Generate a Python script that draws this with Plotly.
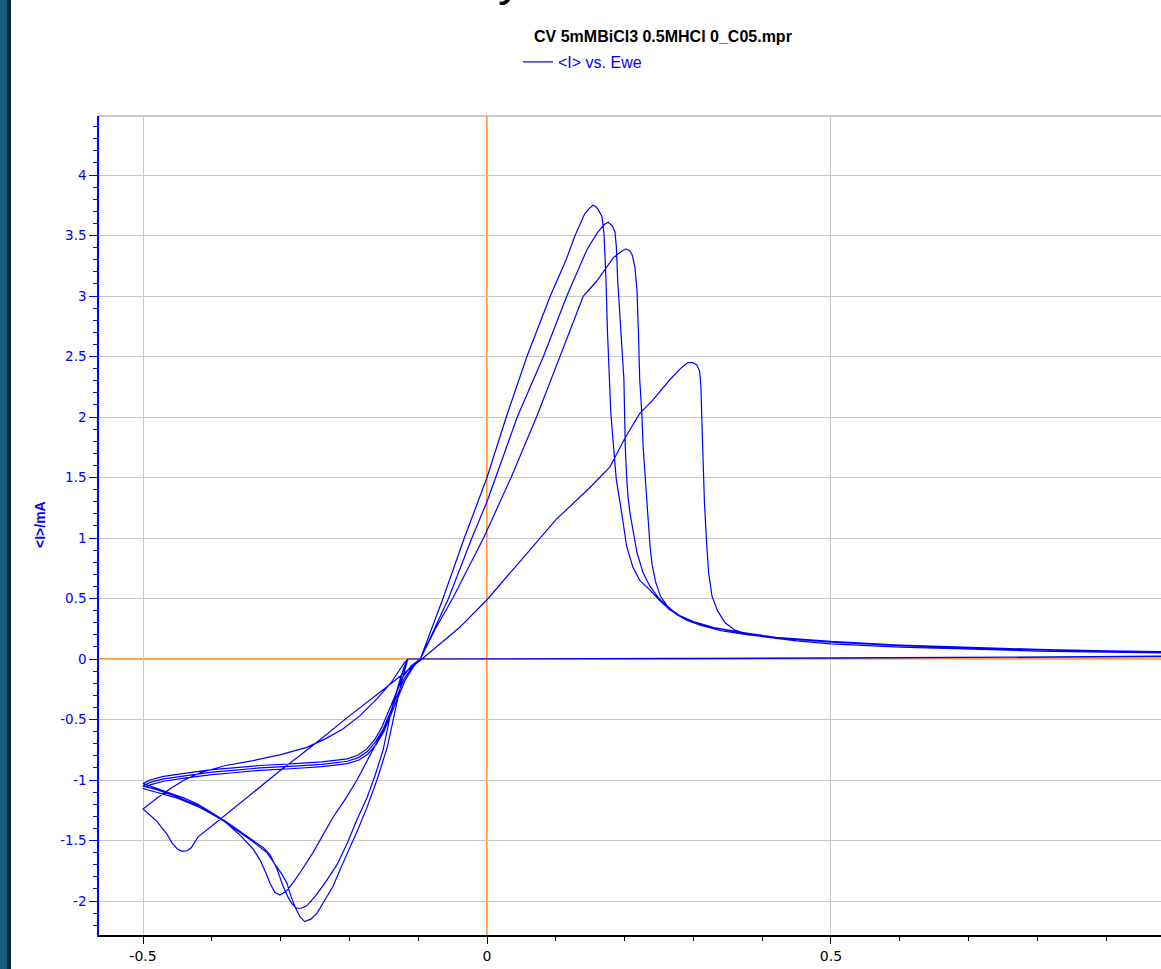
import plotly.graph_objects as go

# ---------------- data ----------------
# Cycle 1: start at rest, cathodic sweep, nucleation loop, anodic sweep, stripping peak, tail
c1_E = [0.25, 0.10, -0.05, -0.115, -0.12, -0.126, -0.14, -0.16, -0.185, -0.21, -0.235, -0.262, -0.30, -0.34, -0.38,
        -0.417, -0.44, -0.46, -0.48, -0.50,
        -0.49, -0.48, -0.472, -0.465, -0.458, -0.45, -0.443, -0.436, -0.43, -0.426, -0.42,
        -0.40, -0.37, -0.34, -0.30, -0.25, -0.20, -0.15, -0.0945,
        -0.04, 0.0, 0.05, 0.10, 0.15, 0.179, 0.20, 0.222, 0.241, 0.266, 0.283, 0.292, 0.299, 0.305, 0.309, 0.311,
        0.312, 0.314, 0.316, 0.319, 0.322, 0.327, 0.335, 0.346, 0.36, 0.38, 0.40, 0.45, 0.50, 0.60, 0.70, 0.80,
        0.90, 1.05]
c1_I = [0.0, 0.0, 0.0, 0.0, -0.03, -0.08, -0.2, -0.33, -0.47, -0.58, -0.66, -0.73, -0.79, -0.84, -0.88,
        -0.94, -1.0, -1.07, -1.15, -1.24,
        -1.29, -1.34, -1.40, -1.45, -1.52, -1.57, -1.59, -1.585, -1.56, -1.52, -1.47,
        -1.38, -1.24, -1.10, -0.92, -0.70, -0.47, -0.25, 0.0,
        0.26, 0.49, 0.82, 1.15, 1.42, 1.59, 1.82, 2.03, 2.14, 2.31, 2.41, 2.45, 2.45, 2.43, 2.38, 2.25,
        2.03, 1.67, 1.30, 0.98, 0.72, 0.52, 0.40, 0.30, 0.24, 0.205, 0.185, 0.15, 0.125, 0.098, 0.08, 0.066,
        0.056, 0.045]

# return sweeps from the upper vertex (current close to zero)
ret_E = [1.05, 0.90, 0.70, 0.50, 0.30, 0.10, -0.115]
ret1_I = [0.022, 0.017, 0.012, 0.007, 0.003, 0.0, 0.0]
ret2_I = [0.025, 0.019, 0.013, 0.008, 0.003, 0.001, 0.0]
ret3_I = [0.027, 0.020, 0.014, 0.008, 0.004, 0.001, 0.0]

# Cycle 2
c2_cath_E = [-0.12, -0.127, -0.134, -0.141, -0.15, -0.16, -0.175, -0.189, -0.205, -0.224, -0.24, -0.253, -0.27,
             -0.282, -0.292, -0.301, -0.308, -0.315, -0.322, -0.33, -0.34, -0.35, -0.36, -0.38, -0.40, -0.42,
             -0.44, -0.46, -0.48, -0.50]
c2_cath_I = [-0.06, -0.18, -0.32, -0.46, -0.58, -0.69, -0.85, -1.0, -1.15, -1.31, -1.47, -1.60, -1.75,
             -1.85, -1.92, -1.95, -1.93, -1.86, -1.76, -1.66, -1.57, -1.51, -1.45, -1.35, -1.27, -1.20,
             -1.15, -1.11, -1.07, -1.03]
c2_anod_E = [-0.49, -0.47, -0.44, -0.40, -0.369, -0.33, -0.28, -0.24, -0.203, -0.188, -0.175, -0.163, -0.153,
             -0.143, -0.133, -0.122, -0.11, -0.097, -0.075, -0.05, -0.005, 0.035, 0.072, 0.106, 0.14, 0.159,
             0.184, 0.196, 0.202, 0.208, 0.211, 0.215, 0.218, 0.22, 0.222, 0.225, 0.227, 0.23, 0.232, 0.235,
             0.237, 0.24, 0.245, 0.252, 0.262, 0.275, 0.29, 0.31, 0.34, 0.38, 0.42, 0.50, 0.60, 0.70, 0.80,
             0.90, 1.05]
c2_anod_I = [-1.0, -0.97, -0.945, -0.915, -0.90, -0.88, -0.865, -0.85, -0.825, -0.795, -0.745, -0.665, -0.565,
             -0.43, -0.285, -0.145, -0.055, 0.0, 0.25, 0.5, 1.0, 1.5, 2.0, 2.5, 3.0, 3.12,
             3.32, 3.37, 3.39, 3.37, 3.34, 3.24, 3.05, 2.72, 2.31, 2.03, 1.75, 1.5, 1.34, 1.1,
             0.93, 0.78, 0.64, 0.52, 0.44, 0.37, 0.32, 0.28, 0.235, 0.20, 0.175, 0.14, 0.11, 0.09, 0.075,
             0.063, 0.05]

# Cycle 3
c3_cath_E = [-0.122, -0.13, -0.14, -0.151, -0.162, -0.174, -0.19, -0.203, -0.218, -0.233, -0.248, -0.262, -0.27,
             -0.277, -0.284, -0.29, -0.297, -0.305, -0.315, -0.325, -0.34, -0.36, -0.38, -0.40, -0.42, -0.45,
             -0.48, -0.50]
c3_cath_I = [-0.1, -0.25, -0.45, -0.75, -0.95, -1.14, -1.34, -1.52, -1.70, -1.83, -1.95, -2.04, -2.06,
             -2.06, -2.02, -1.96, -1.87, -1.74, -1.62, -1.56, -1.50, -1.42, -1.34, -1.27, -1.21, -1.14,
             -1.08, -1.05]
c3_anod_E = [-0.49, -0.47, -0.44, -0.40, -0.369, -0.33, -0.28, -0.24, -0.203, -0.187, -0.174, -0.162, -0.151,
             -0.141, -0.131, -0.12, -0.108, -0.097, -0.078, -0.056, -0.022, 0.0, 0.044, 0.082, 0.116, 0.145,
             0.160, 0.170, 0.176, 0.182, 0.186, 0.188, 0.19, 0.193, 0.196, 0.199, 0.20, 0.201, 0.203, 0.205,
             0.208, 0.212, 0.218, 0.227, 0.237, 0.25, 0.265, 0.28, 0.30, 0.33, 0.37, 0.42, 0.50, 0.60, 0.70,
             0.80, 0.90, 1.05]
c3_anod_I = [-1.02, -0.99, -0.965, -0.935, -0.92, -0.90, -0.885, -0.87, -0.845, -0.815, -0.765, -0.685, -0.58,
             -0.445, -0.30, -0.16, -0.06, 0.0, 0.23, 0.5, 1.0, 1.3, 2.0, 2.5, 3.0, 3.38,
             3.52, 3.59, 3.61, 3.58, 3.53, 3.41, 3.13, 2.86, 2.6, 2.31, 2.03, 1.75, 1.5, 1.34,
             1.2, 1.07, 0.88, 0.71, 0.60, 0.50, 0.42, 0.36, 0.31, 0.26, 0.22, 0.18, 0.145, 0.115, 0.095,
             0.08, 0.068, 0.055]

# Cycle 4
c4_cath_E = [-0.12, -0.128, -0.137, -0.145, -0.16, -0.174, -0.187, -0.199, -0.212, -0.224, -0.236, -0.247,
             -0.256, -0.265, -0.272, -0.279, -0.285, -0.291, -0.298, -0.305, -0.32, -0.34, -0.36, -0.38, -0.40,
             -0.42, -0.45, -0.48, -0.50]
c4_cath_I = [-0.1, -0.28, -0.52, -0.73, -1.0, -1.22, -1.40, -1.55, -1.72, -1.88, -2.0, -2.10,
             -2.15, -2.17, -2.13, -2.05, -1.96, -1.85, -1.78, -1.72, -1.60, -1.51, -1.43, -1.35, -1.28,
             -1.22, -1.15, -1.10, -1.07]
c4_anod_E = [-0.49, -0.47, -0.44, -0.40, -0.369, -0.33, -0.28, -0.24, -0.203, -0.186, -0.173, -0.161, -0.15,
             -0.14, -0.13, -0.119, -0.107, -0.097, -0.064, -0.033, 0.0, 0.028, 0.058, 0.092, 0.115, 0.128,
             0.142, 0.148, 0.154, 0.158, 0.161, 0.167, 0.170, 0.173, 0.175, 0.178, 0.180, 0.184, 0.188, 0.196,
             0.203, 0.212, 0.222, 0.237, 0.25, 0.265, 0.28, 0.30, 0.33, 0.37, 0.42, 0.50, 0.60, 0.70, 0.80,
             0.90, 1.05]
c4_anod_I = [-1.04, -1.01, -0.985, -0.955, -0.94, -0.92, -0.905, -0.89, -0.865, -0.835, -0.785, -0.705, -0.60,
             -0.46, -0.315, -0.175, -0.065, 0.0, 0.5, 1.0, 1.5, 2.0, 2.5, 3.0, 3.3, 3.5,
             3.68, 3.72, 3.75, 3.74, 3.72, 3.66, 3.52, 3.13, 2.72, 2.31, 2.03, 1.75, 1.48, 1.2,
             0.93, 0.76, 0.65, 0.57, 0.49, 0.41, 0.355, 0.305, 0.26, 0.215, 0.18, 0.14, 0.11, 0.09, 0.077,
             0.065, 0.052]

x_tickvals = [-0.5, 0, 0.5]
x_ticktext = ["-0.5", "0", "0.5"]
y_tickvals = [-2, -1.5, -1, -0.5, 0, 0.5, 1, 1.5, 2, 2.5, 3, 3.5, 4]
y_ticktext = ["-2", "-1.5", "-1", "-0.5", "0", "0.5", "1", "1.5", "2", "2.5", "3", "3.5", "4"]
x_range = [-0.564, 0.9797]
y_range = [-2.281, 4.488]

title_text = "CV 5mMBiCl3 0.5MHCl 0_C05.mpr"
series_name = "&lt;I&gt; vs. Ewe"
y_title = "&lt;I&gt;/mA"

# ---------------- assemble the single recorded series ----------------
E = (c1_E + ret_E + c2_cath_E + c2_anod_E + ret_E + c3_cath_E + c3_anod_E + ret_E + c4_cath_E + c4_anod_E)
I = (c1_I + ret1_I + c2_cath_I + c2_anod_I + ret2_I + c3_cath_I + c3_anod_I + ret3_I + c4_cath_I + c4_anod_I)

W, H = 1161, 969
ML, MR, MT, MB = 99, 0, 116, 34
PW, PH = W - ML - MR, H - MT - MB


def px_x(px):
    return (px - ML) / PW


def px_y(py):
    return (H - MB - py) / PH


BLUE = "#0000FF"
ORANGE = "#FF7A00"
GRID = "#C8C8C8"

fig = go.Figure()
fig.add_trace(go.Scatter(x=E, y=I, mode="lines", name=series_name,
                         line=dict(color=BLUE, width=1.2), showlegend=True))

fig.update_layout(
    width=W, height=H,
    margin=dict(l=ML, r=MR, t=MT, b=MB, pad=0),
    paper_bgcolor="white", plot_bgcolor="white",
    font=dict(family="Liberation Sans, Arial, sans-serif"),
    showlegend=True,
    legend=dict(x=px_x(518), y=px_y(62), xanchor="left", yanchor="middle",
                font=dict(family="Liberation Sans, Arial, sans-serif", size=16, color=BLUE),
                bgcolor="rgba(0,0,0,0)", borderwidth=0, itemwidth=30),
    xaxis=dict(range=x_range, tickvals=x_tickvals, ticktext=x_ticktext,
               showgrid=True, gridcolor=GRID, gridwidth=1, zeroline=False,
               showline=True, linecolor="black", linewidth=1.5,
               ticks="outside", ticklen=7, tickwidth=1, tickcolor="black",
               minor=dict(dtick=0.1, tick0=0, ticks="outside", ticklen=4, tickcolor="black", showgrid=False),
               tickfont=dict(family="DejaVu Sans", size=14, color="black")),
    yaxis=dict(range=y_range, tickvals=y_tickvals, ticktext=y_ticktext,
               showgrid=True, gridcolor=GRID, gridwidth=1, zeroline=False,
               showline=True, linecolor=BLUE, linewidth=1.5,
               ticks="outside", ticklen=8, tickwidth=1, tickcolor=BLUE,
               minor=dict(dtick=0.1, tick0=0, ticks="outside", ticklen=4, tickcolor=BLUE, showgrid=False),
               tickfont=dict(family="DejaVu Sans", size=13.5, color=BLUE)),
    shapes=[
        # orange zero lines (under the data)
        dict(type="line", xref="x", yref="y", x0=0, x1=0, y0=y_range[0], y1=y_range[1],
             line=dict(color=ORANGE, width=1.5), layer="below"),
        dict(type="line", xref="x", yref="y", x0=x_range[0], x1=x_range[1], y0=0, y1=0,
             line=dict(color=ORANGE, width=1.5), layer="below"),
        # window frame strip at the left edge
        dict(type="rect", xref="paper", yref="paper", x0=px_x(0), x1=px_x(7), y0=px_y(H), y1=px_y(0),
             fillcolor="#165C7E", line=dict(width=0), layer="above"),
        dict(type="rect", xref="paper", yref="paper", x0=px_x(7), x1=px_x(11), y0=px_y(H), y1=px_y(0),
             fillcolor="#0A2B3D", line=dict(width=0), layer="above"),
        # top border of the plot area
        dict(type="line", xref="paper", yref="paper", x0=0, x1=1, y0=1, y1=1,
             line=dict(color=GRID, width=2), layer="below"),
    ],
    annotations=[
        dict(text="<b>" + title_text + "</b>", x=px_x(663), y=px_y(37), xref="paper", yref="paper",
             xanchor="center", yanchor="middle", showarrow=False,
             font=dict(family="Liberation Sans, Arial, sans-serif", size=16, color="black")),
        dict(text="<b>" + y_title + "</b>", x=px_x(40), y=px_y(525), xref="paper", yref="paper",
             xanchor="center", yanchor="middle", showarrow=False, textangle=-90,
             font=dict(family="Liberation Sans, Arial, sans-serif", size=14, color=BLUE)),
        dict(text="y", x=px_x(510), y=px_y(7), xref="paper", yref="paper",
             xanchor="center", yanchor="bottom", showarrow=False,
             font=dict(family="Liberation Sans, Arial, sans-serif", size=48, color="black")),
    ],
)

fig.write_html("out.html", config={"displayModeBar": False},
               post_script="document.body.style.margin='0px';document.body.style.padding='0px';")
